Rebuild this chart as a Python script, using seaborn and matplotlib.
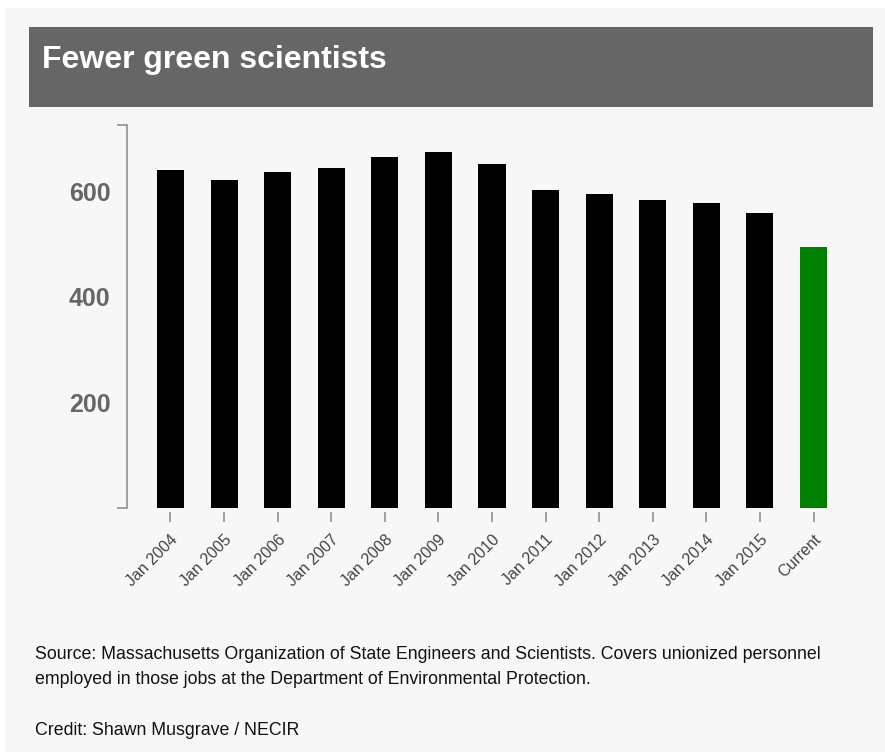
import matplotlib
matplotlib.use("Agg")
import matplotlib.pyplot as plt
from matplotlib.patches import Rectangle
import seaborn as sns
import pandas as pd

categories = ["Jan 2004", "Jan 2005", "Jan 2006", "Jan 2007", "Jan 2008", "Jan 2009",
              "Jan 2010", "Jan 2011", "Jan 2012", "Jan 2013", "Jan 2014", "Jan 2015", "Current"]
scientists = [641, 622, 636, 645, 666, 675, 652, 603, 595, 583, 579, 560, 495]
bar_colors = ["#000000"] * 12 + ["#008000"]
y_ticks = [200, 400, 600]

title = "Fewer green scientists"
source_lines = ["Source: Massachusetts Organization of State Engineers and Scientists. Covers unionized personnel",
                "employed in those jobs at the Department of Environmental Protection."]
credit = "Credit: Shawn Musgrave / NECIR"

sns.set_theme(style="white")
plt.rcParams["font.family"] = ["Liberation Sans", "DejaVu Sans"]

W, H = 885, 752
fig = plt.figure(figsize=(W / 100, H / 100), dpi=100)
fig.patch.set_facecolor("#f7f7f7")

def fx(px):
    return px / W

def fy(py):
    return 1 - py / H

# white margins
fig.patches.append(Rectangle((0, fy(8)), 1, 8 / H, transform=fig.transFigure,
                             facecolor="white", edgecolor="none", zorder=0))
fig.patches.append(Rectangle((0, 0), 5 / W, 1, transform=fig.transFigure,
                             facecolor="white", edgecolor="none", zorder=0))
# banner
fig.patches.append(Rectangle((fx(29), fy(107)), fx(873) - fx(29), (107 - 27) / H,
                             transform=fig.transFigure, facecolor="#666666",
                             edgecolor="none", zorder=1))
fig.text(fx(42), fy(68), title, color="white", fontsize=23, fontweight="bold",
         va="baseline", ha="left", zorder=2)

ax = fig.add_axes([fx(127), fy(508), fx(857) - fx(127), (508 - 125) / H])
ax.set_facecolor("none")

df = pd.DataFrame({"period": categories, "count": scientists})
sns.barplot(data=df, x="period", y="count", hue="period", palette=bar_colors,
            legend=False, width=0.504, saturation=1, ax=ax, linewidth=0)

ymax = 726
ax.set_ylim(0, ymax)
ax.set_xlim(-0.81, len(categories) - 1 + 0.81)
ax.set_xlabel("")
ax.set_ylabel("")

for s in ["top", "right"]:
    ax.spines[s].set_visible(False)
ax.spines["left"].set_color("#888888")
ax.spines["left"].set_linewidth(1.1)
ax.spines["bottom"].set_position(("outward", 3))
ax.spines["bottom"].set_color("none")

ax.set_yticks(y_ticks)
ax.set_yticklabels([str(v) for v in y_ticks], fontsize=18, fontweight="bold", color="#666666")
ax.set_yticks([0, ymax], minor=True)
ax.tick_params(axis="y", which="major", length=0, pad=12, left=True)
ax.tick_params(axis="y", which="minor", length=7.2, width=1.1, color="#888888",
               direction="out", left=True)

ax.tick_params(axis="x", which="major", length=7.2, width=1.1, color="#888888",
               direction="out", pad=7, bottom=True)
ax.set_xticks(range(len(categories)))
ax.set_xticklabels(categories, rotation=45, ha="right", rotation_mode="anchor",
                   fontsize=11.5, color="#444444")

fig.text(fx(35), fy(659), source_lines[0], fontsize=12.8, color="#111111", va="baseline", ha="left")
fig.text(fx(35), fy(684), source_lines[1], fontsize=12.8, color="#111111", va="baseline", ha="left")
fig.text(fx(35), fy(735), credit, fontsize=12.8, color="#111111", va="baseline", ha="left")

fig.savefig("out.png", dpi=100, facecolor=fig.get_facecolor())
